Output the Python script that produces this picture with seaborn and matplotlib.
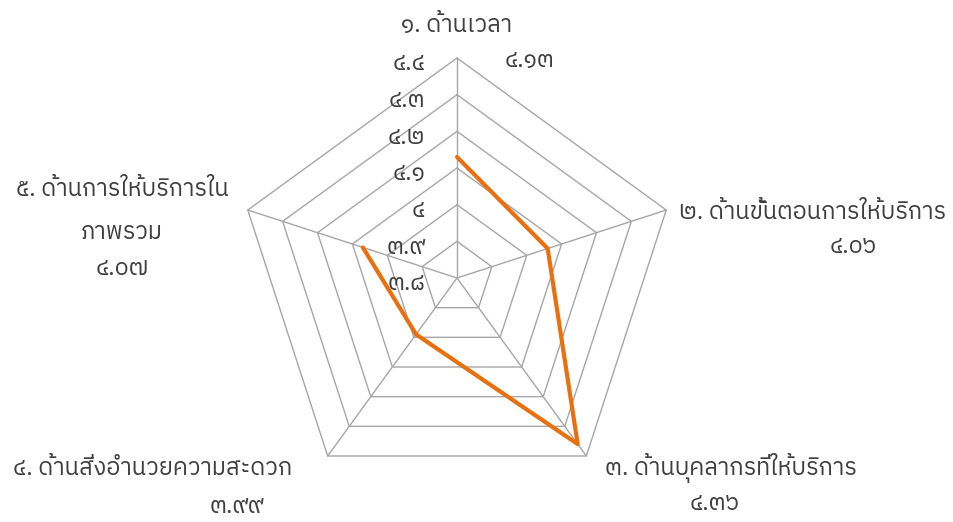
import numpy as np
import seaborn as sns
import matplotlib.pyplot as plt
from matplotlib import font_manager as fm
from matplotlib.ft2font import FT2Font

categories = ["๑. ด้านเวลา", "๒. ด้านขั้นตอนการให้บริการ", "๓. ด้านบุคลากรที่ให้บริการ",
              "๔. ด้านสิ่งอำนวยความสะดวก", "๕. ด้านการให้บริการใน", "ภาพรวม"]
values = [4.13, 4.06, 4.36, 3.99, 4.07]
value_labels = ["๔.๑๓", "๔.๐๖", "๔.๓๖", "๓.๙๙", "๔.๐๗"]
ticks = [3.8, 3.9, 4.0, 4.1, 4.2, 4.3, 4.4]
tick_labels = ["๓.๘", "๓.๙", "๔", "๔.๑", "๔.๒", "๔.๓", "๔.๔"]

sns.set_style("white")

# look for an installed font that has Thai glyphs
found = []
for f in sorted(fm.findSystemFonts()):
    try:
        if 0x0E14 in FT2Font(f).get_charmap():
            found.append(fm.FontProperties(fname=f).get_name())
    except Exception:
        pass
thai_font = None
for name in found:
    if "Sans" in name or "Tahoma" in name or "Leelawadee" in name:
        thai_font = name
        break
if thai_font is None and found:
    thai_font = found[0]
plt.rcParams["font.family"] = [thai_font, "DejaVu Sans"] if thai_font else ["DejaVu Sans"]

text_color = "#3f3f3f"
grid_color = "#a6a6a6"
line_color = "#E8700E"
fs = 17

rmin, rmax = ticks[0], ticks[-1]
n = len(values)
ang = np.deg2rad(90 - 72 * np.arange(n))


def xy(v):
    r = (np.asarray(v) - rmin) / (rmax - rmin)
    return r * np.cos(ang), r * np.sin(ang)


fig = plt.figure(figsize=(9.54, 5.22), dpi=100)
ax = fig.add_axes([0, 0, 1, 1])
W, H, cx, cy, R = 954, 522, 457, 278, 220
ax.set_xlim(-cx / R, (W - cx) / R)
ax.set_ylim(-(H - cy) / R, cy / R)
ax.axis("off")

# pentagon rings
for t in ticks[1:]:
    gx, gy = xy([t] * n)
    ax.plot(np.append(gx, gx[0]), np.append(gy, gy[0]), color=grid_color, lw=1, zorder=1)
# spokes
ox, oy = xy([rmax] * n)
for i in range(n):
    ax.plot([0, ox[i]], [0, oy[i]], color=grid_color, lw=1, zorder=1)

# data line
vx, vy = xy(values)
sns.lineplot(x=np.append(vx, vx[0]), y=np.append(vy, vy[0]), sort=False,
             color=line_color, lw=3, ax=ax, zorder=3)

# radial tick labels along the top spoke
for t, lab in zip(ticks, tick_labels):
    r = (t - rmin) / (rmax - rmin)
    ax.text(-0.145, r - 0.027, lab, ha="right", va="center", fontsize=fs, color=text_color)

# category labels with their values
kw = dict(va="center", fontsize=fs, color=text_color)
ax.text(0, 1.15, categories[0], ha="center", **kw)
ax.text(0.33, 0.99, value_labels[0], ha="center", **kw)

ax.text(1.01, 0.30, categories[1], ha="left", **kw)
ax.text(1.80, 0.145, value_labels[1], ha="center", **kw)

ax.text(0.673, -0.864, categories[2], ha="left", **kw)
ax.text(1.173, -1.023, value_labels[2], ha="center", **kw)

ax.text(-2.02, -0.864, categories[3], ha="left", **kw)
ax.text(-1.0, -1.04, value_labels[3], ha="center", **kw)

ax.text(-1.523, 0.40, categories[4], ha="center", **kw)
ax.text(-1.523, 0.209, categories[5], ha="center", **kw)
ax.text(-1.523, 0.045, value_labels[4], ha="center", **kw)

fig.savefig("out.png", dpi=100)
